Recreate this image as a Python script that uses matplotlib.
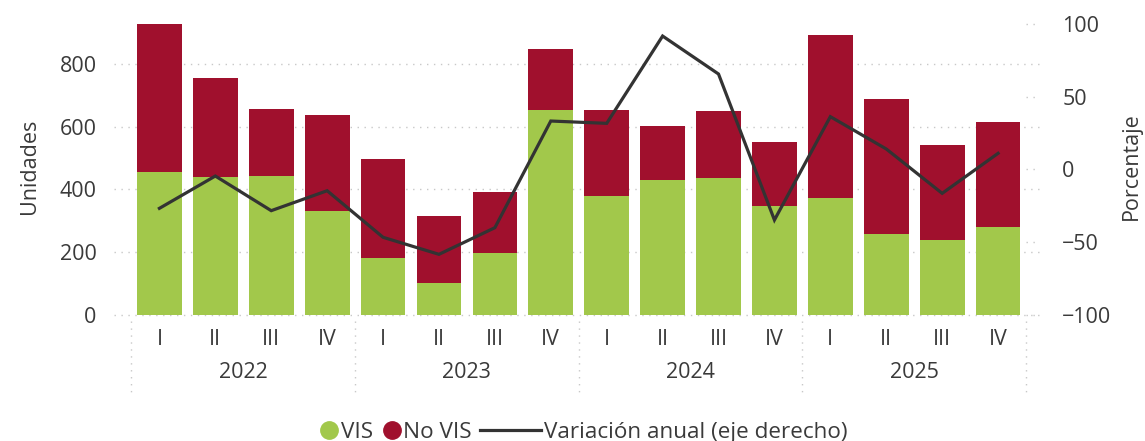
import matplotlib.pyplot as plt
import matplotlib.transforms as mtransforms
from matplotlib.lines import Line2D
import numpy as np

###############################################################################
# Data
###############################################################################
quarters = ['I', 'II', 'III', 'IV'] * 4
years = ['2022', '2023', '2024', '2025']
vis = [455, 438, 443, 332, 180, 102, 199, 654,
       380, 431, 437, 347, 373, 258, 239, 280]
total = [927, 756, 657, 637, 496, 316, 393, 847,
         653, 603, 650, 552, 891, 688, 541, 614]
no_vis = [t - v for t, v in zip(total, vis)]
variacion = [-26.7, -4.5, -28.3, -14.6, -46.6, -58.3, -40.0, 33.3,
             31.7, 91.7, 65.6, -34.7, 36.3, 14.1, -16.4, 11.1]

###############################################################################
# Style
###############################################################################
(GREEN, RED, LINE, TXT, GRID) = ('#A2C84B', '#A0102D', '#333333', '#3a3a3a', '#c8c8c8')
plt.rcParams['font.family'] = ['Open Sans', 'DejaVu Sans']
plt.rcParams['font.size'] = 15.5
DOT = (0, (1, 4))

fig = plt.figure(figsize=(11.45, 4.41), dpi=100)
ax = fig.add_axes([0.1148, 0.2857, 0.7813, 0.6735])
ax2 = ax.twinx()
x = np.arange(len(vis))

# bars ------------------------------------------------------------------------
ax.bar(x, vis, width=0.8, color=GREEN, zorder=2)
ax.bar(x, no_vis, bottom=vis, width=0.8, color=RED, zorder=2)
ax.set_xlim(-0.5, 15.5)
ax.set_ylim(0, 946)
ax.set_yticks([0, 200, 400, 600, 800])
ax2.set_ylim(-100, 104.1)
ax2.set_yticks([-100, -50, 0, 50, 100])

# line ------------------------------------------------------------------------
ax2.plot(x, variacion, color=LINE, lw=2.3, zorder=5, solid_joinstyle='miter')

# grid lines (dotted, running slightly beyond the plot) ------------------------
trL = mtransforms.blended_transform_factory(ax.transAxes, ax.transData)
for v in ax.get_yticks():
    ax.plot([-0.02, 1.015], [v, v], transform=trL, clip_on=False,
            color=GRID, lw=1, ls=DOT, zorder=0)
trR = mtransforms.blended_transform_factory(ax2.transAxes, ax2.transData)
for v in ax2.get_yticks():
    ax2.plot([1.0, 1.015], [v, v], transform=trR, clip_on=False,
             color=GRID, lw=1, ls=DOT, zorder=0)

# axes cosmetics ---------------------------------------------------------------
for a in (ax, ax2):
    for s in a.spines.values():
        s.set_visible(False)
    a.tick_params(length=0, colors=TXT)
ax.tick_params(axis='y', pad=25)
ax2.tick_params(axis='y', pad=26)
ax.set_xticks([])
ax.set_ylabel('Unidades', color=TXT, labelpad=14)
ax2.set_ylabel('Porcentaje', color=TXT, labelpad=7)

# two-level category axis -----------------------------------------------------
trX = mtransforms.blended_transform_factory(ax.transData, ax.transAxes)
for i, q in enumerate(quarters):
    ax.text(i, -0.084, q, transform=trX, ha='center', va='center', color=TXT)
for j, yr in enumerate(years):
    ax.text(4 * j + 1.5, -0.192, yr, transform=trX, ha='center', va='center', color=TXT)
for b in [-0.5, 3.5, 7.5, 11.5, 15.5]:
    ax.plot([b, b], [-0.02, -0.26], transform=trX, clip_on=False,
            color=GRID, lw=1, ls=DOT)

# legend (two pieces so the line handle can be longer) -------------------------
LEG_Y = 0.02
common = dict(frameon=False, borderpad=0, borderaxespad=0, labelcolor=TXT,
              fontsize=16.2, handletextpad=0.15, columnspacing=0.45)
dots = [
    Line2D([], [], marker='o', ls='', color=GREEN, markersize=12.5),
    Line2D([], [], marker='o', ls='', color=RED, markersize=12.5),
]
leg1 = fig.legend(dots, ['VIS', 'No VIS'], loc='center right',
                  bbox_to_anchor=(472 / 1145, LEG_Y), ncol=2,
                  handlelength=0.75, **common)
line_h = [Line2D([], [], color=LINE, lw=2.3)]
fig.legend(line_h, ['Variación anual (eje derecho)'], loc='center left',
           bbox_to_anchor=(480 / 1145, LEG_Y), handlelength=2.7, **common)

fig.savefig('out.png', dpi=100)
